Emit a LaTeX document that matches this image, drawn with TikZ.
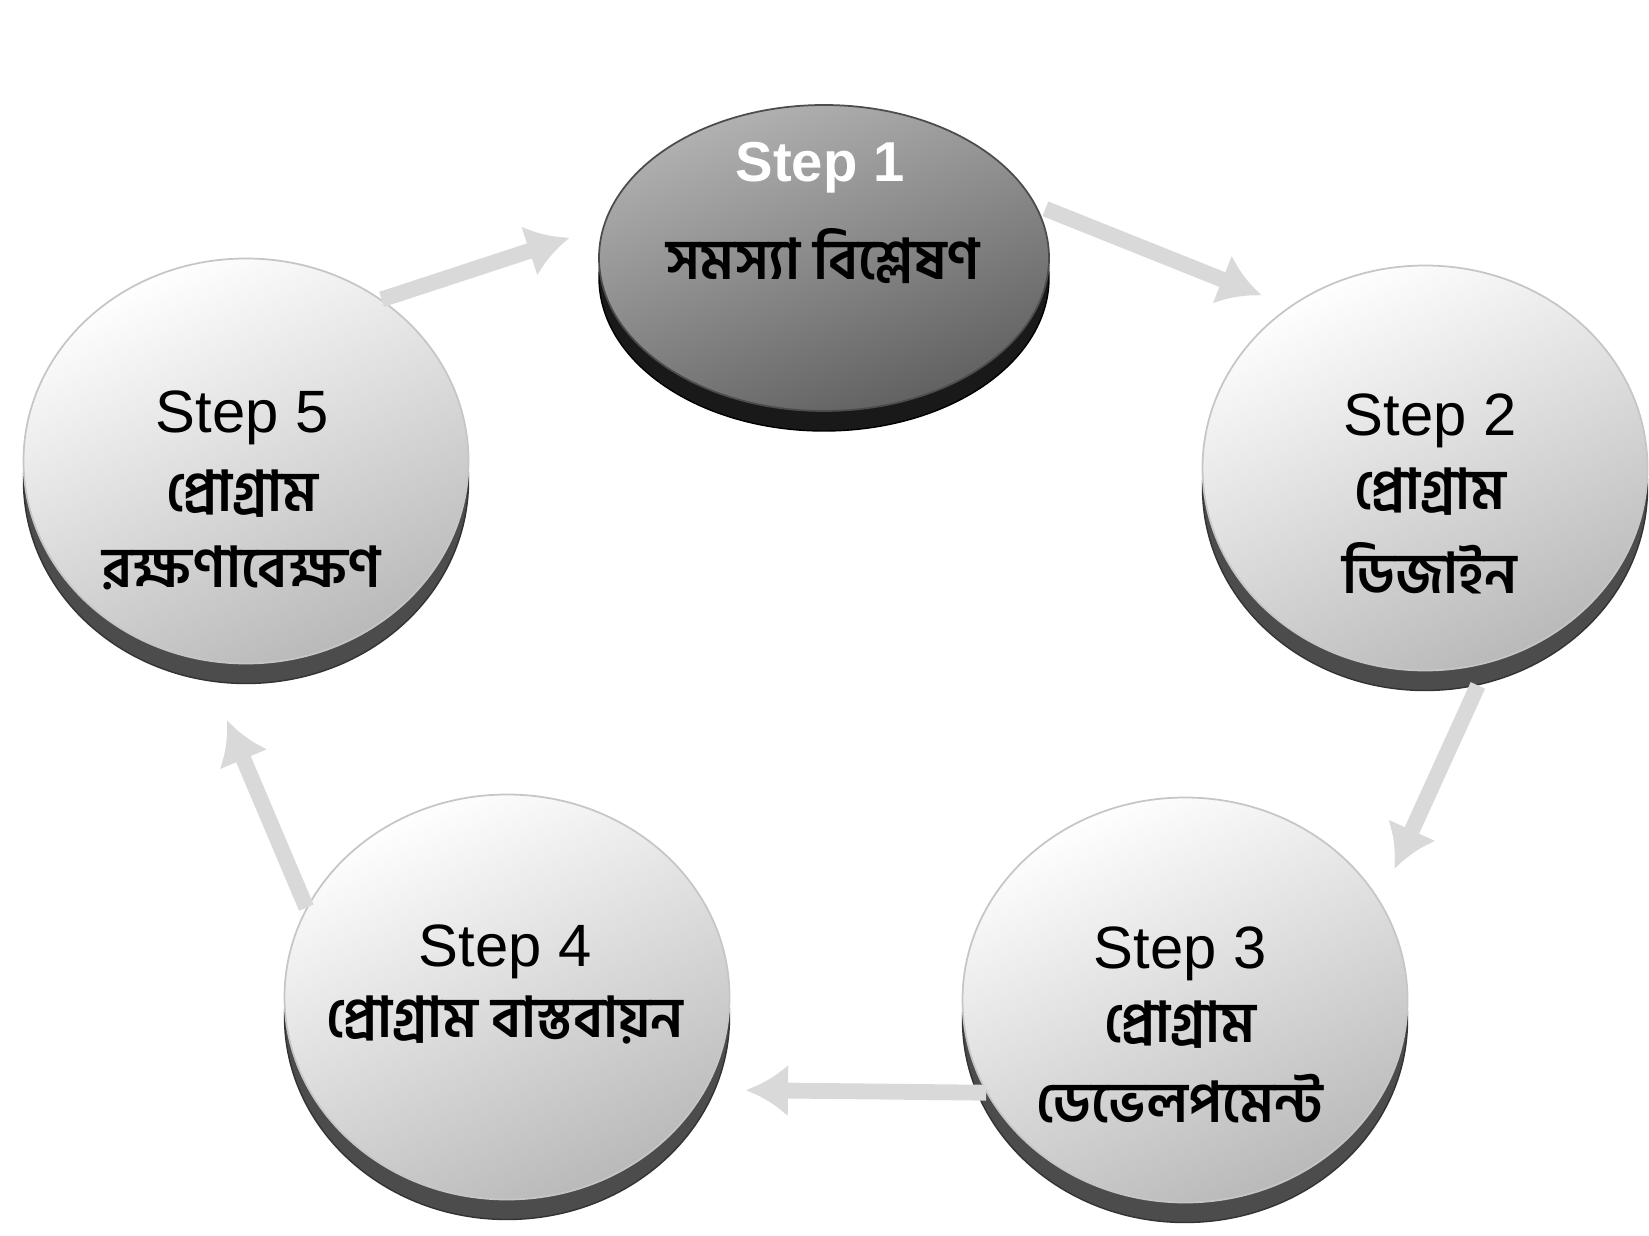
\documentclass[tikz,border=0pt]{standalone}
\usepackage{fontspec}
\setmainfont{Liberation Sans}
\newfontfamily\bnfont[Script=Bengali]{Hind Siliguri}
\usetikzlibrary{arrows.meta, shapes.geometric, positioning, calc}
\tikzset{
  topdisc/.style={ellipse,minimum width=4.45cm,minimum height=4.05cm,inner sep=0pt,draw=gray!45,line width=0.5pt,top color=white,bottom color=gray!55,shading angle=25},
  darkdisc/.style={ellipse,minimum width=4.5cm,minimum height=3.06cm,inner sep=0pt,draw=black!70,line width=0.5pt,top color=gray!60,bottom color=gray!75!black,shading angle=20},
  rim/.style={ellipse,minimum width=4.45cm,minimum height=4.05cm,inner sep=0pt,fill=black!70,draw=black!80},
  darkrim/.style={ellipse,minimum width=4.5cm,minimum height=3.06cm,inner sep=0pt,fill=black!90,draw=black},
  steplbl/.style={font=\fontsize{17}{19}\selectfont,inner sep=1pt},
  bnlbl/.style={font=\fontsize{16}{19}\selectfont\bnfont\bfseries,inner sep=1pt},
  arr/.style={-{Latex[length=12pt,width=15pt]},line width=4.5pt,gray!30}
}

\begin{document}
\begin{tikzpicture}
  \useasboundingbox (0,0) rectangle (16.49,12.35);

  % rims
  \node[darkrim] (r1) at (8.24,9.57)  {};
  \node[rim]     (r2) at (14.25,7.47) {};
  \node[rim]     (r3) at (11.85,2.15) {};
  \node[rim]     (r4) at (5.07,2.18)  {};
  \node[rim]     (r5) at (2.46,7.54)  {};

  % top faces
  \node[darkdisc] (s1) at (8.24,9.77)  {};
  \node[topdisc]  (s2) at (14.25,7.67) {};
  \node[topdisc]  (s3) at (11.85,2.35) {};
  \node[topdisc]  (s4) at (5.07,2.38)  {};
  \node[topdisc]  (s5) at (2.46,7.74)  {};

  % labels
  \node[steplbl,text=white,font=\fontsize{16}{18}\selectfont\bfseries] (t1) at (8.20,10.67) {Step 1};
  \node[bnlbl] (b1) at (8.23,9.79) {সমস্যা বিশ্লেষণ};

  \node[steplbl] (t2) at (14.30,8.14) {Step 2};
  \node[bnlbl] (b2a) at (14.30,7.43) {প্রোগ্রাম};
  \node[bnlbl] (b2b) at (14.30,6.67) {ডিজাইন};

  \node[steplbl] (t3) at (11.80,2.81) {Step 3};
  \node[bnlbl] (b3a) at (11.80,2.10) {প্রোগ্রাম};
  \node[bnlbl] (b3b) at (11.80,1.36) {ডেভেলপমেন্ট};

  \node[steplbl] (t4) at (5.05,2.83) {Step 4};
  \node[bnlbl] (b4) at (5.05,2.15) {প্রোগ্রাম বাস্তবায়ন};

  \node[steplbl] (t5) at (2.42,8.17) {Step 5};
  \node[bnlbl] (b5a) at (2.42,7.41) {প্রোগ্রাম};
  \node[bnlbl] (b5b) at (2.42,6.67) {রক্ষণাবেক্ষণ};

  % cycle
  \draw[arr,shorten <=0.1cm,shorten >=0.3cm] (s1.14) -- (s2.130);
  \draw[arr,shorten >=0.35cm] (r2.-75) -- (s3.27);
  \draw[arr,shorten >=0.4cm] (s3.205) -- (s4.-25);
  \draw[arr,shorten >=0.42cm] (s4.156) -- (r5.-100);
  \draw[arr,shorten >=0.35cm] (s5.50) -- (s1.172);
\end{tikzpicture}
\end{document}
